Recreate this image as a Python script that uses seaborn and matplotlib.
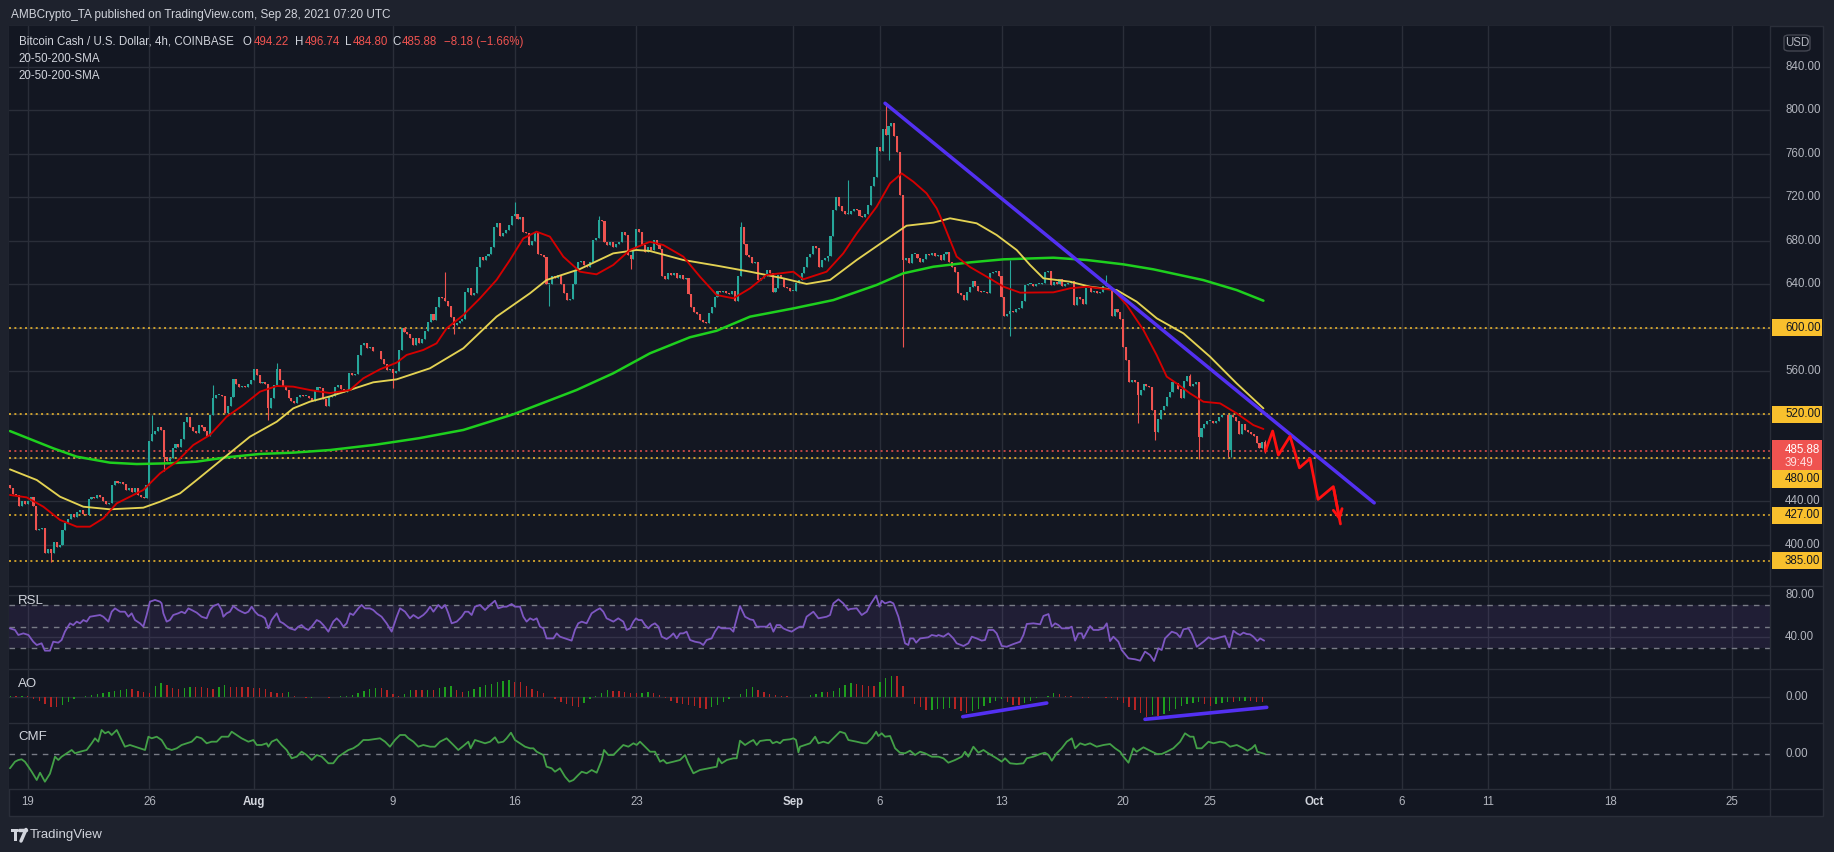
import numpy as np
import matplotlib
matplotlib.use("Agg")
import matplotlib.pyplot as plt
import seaborn as sns
from matplotlib.transforms import blended_transform_factory as btf
from matplotlib.patches import Rectangle, FancyBboxPatch
from matplotlib.lines import Line2D

sns.set_style("dark")
plt.rcParams["font.family"] = ["Liberation Sans", "DejaVu Sans"]

# ---------------- data (days counted from Jul 19 00:00, 4h candles start Jul 18 00:00) -------------
closes_by_day = [
    [452, 447, 446, 436, 440, 437],   # Jul 18
    [440, 444, 436, 413, 414, 415],   # Jul 19
    [392, 396, 392, 402, 398, 400],
    [413, 420, 424, 428, 425, 430],
    [432, 428, 427, 442, 444, 443],
    [446, 444, 440, 437, 438, 455],
    [459, 457, 458, 456, 450, 452],
    [448, 452, 446, 444, 443, 455],
    [495, 502, 505, 508, 506, 481],   # Jul 26
    [477, 480, 489, 493, 490, 497],
    [513, 518, 508, 505, 503, 510],
    [508, 505, 500, 519, 535, 538],
    [538, 537, 521, 528, 536, 553],
    [548, 545, 546, 545, 548, 552],   # Jul 31
    [562, 556, 549, 550, 548, 526],   # Aug 1
    [535, 547, 562, 552, 546, 542],
    [535, 532, 530, 536, 538, 537],
    [537, 535, 532, 542, 545, 544],
    [534, 528, 536, 537, 545, 547],
    [543, 541, 542, 558, 556, 557],
    [575, 584, 586, 581, 582, 578],
    [578, 578, 571, 566, 561, 562],
    [558, 560, 579, 600, 596, 594],   # Aug 9
    [590, 584, 590, 586, 589, 597],
    [605, 612, 607, 619, 628, 627],
    [624, 620, 610, 602, 604, 606],
    [608, 633, 636, 630, 632, 656],
    [665, 662, 666, 668, 674, 693],
    [696, 684, 687, 690, 694, 703],
    [705, 700, 702, 688, 687, 676],   # Aug 16
    [680, 688, 668, 667, 665, 640],
    [640, 647, 646, 648, 640, 632],
    [625, 626, 640, 653, 660, 661],
    [658, 656, 660, 681, 682, 699],
    [698, 679, 676, 679, 674, 677],
    [679, 688, 685, 667, 663, 673],
    [691, 688, 676, 670, 674, 671],   # Aug 23
    [681, 676, 672, 647, 645, 650],
    [648, 650, 646, 648, 645, 646],
    [631, 619, 614, 612, 607, 605],
    [604, 613, 619, 628, 634, 633],
    [634, 632, 631, 634, 624, 647],
    [693, 677, 667, 665, 659, 660],
    [644, 646, 647, 653, 650, 633],
    [636, 648, 646, 637, 636, 634],   # Aug 31
    [634, 641, 644, 650, 656, 665],   # Sep 1
    [668, 675, 673, 656, 662, 664],
    [666, 684, 708, 720, 712, 707],
    [705, 705, 707, 709, 708, 703],
    [702, 705, 713, 730, 739, 766],
    [763, 783, 777, 786, 788, 776],   # Sep 6
    [762, 722, 662, 664, 659, 668],
    [668, 664, 660, 663, 668, 667],
    [669, 666, 667, 662, 668, 670],
    [660, 656, 651, 632, 630, 625],
    [633, 637, 643, 638, 634, 633],
    [633, 632, 650, 651, 652, 647],
    [628, 611, 612, 615, 614, 617],   # Sep 13
    [618, 624, 639, 640, 640, 638],
    [640, 640, 641, 651, 652, 639],
    [642, 640, 645, 638, 640, 641],
    [643, 621, 628, 626, 622, 636],
    [636, 633, 634, 632, 633, 638],
    [639, 636, 611, 617, 614, 608],
    [582, 570, 550, 552, 550, 538],   # Sep 20
    [542, 548, 546, 545, 524, 504],
    [516, 524, 528, 536, 541, 550],
    [549, 543, 535, 551, 555, 546],
    [548, 550, 499, 507, 511, 514],
    [514, 512, 514, 518, 519, 519],
    [487, 519, 518, 514, 502, 511],
    [506, 504, 502, 500, 494, 489],
    [494.22, 485.88],                 # Sep 28
]
first_open = 455.0
wick_high = {49: 519, 70: 547, 92: 567, 150: 651, 174: 716, 203: 703, 252: 697,
             289: 736, 302: 806, 345: 662, 378: 648, 407: 557, 433: 496.74}
wick_low = {14: 384, 53: 468, 89: 515, 132: 544, 153: 594, 186: 620, 214: 654,
            282: 661, 303: 754, 308: 582, 345: 592, 389: 512, 395: 496, 410: 479,
            420: 481, 421: 481, 433: 484.80}

sma20 = [(-1.02, 445.7), (-0.06, 443.5), (0.9, 434.9), (1.86, 422.7), (2.82, 416.5), (3.58, 416.5),
         (4.35, 424.2), (5.12, 438), (5.88, 444.1), (6.65, 450.3), (7.61, 465.6), (8.57, 476.4),
         (9.52, 491.7), (10.48, 501), (11.44, 517.8), (12.4, 528.6), (13.36, 540.9), (14.32, 546.1),
         (15.27, 545.5), (16.23, 542.4), (17.38, 539.6), (18.53, 542.4), (19.3, 553.2), (20.26, 561.5),
         (21.21, 567.6), (21.79, 574.7), (22.75, 579.3), (23.51, 585.4), (24.09, 599.2), (25.05, 611.5),
         (26.01, 626.9), (26.96, 643.8), (27.73, 662.2), (28.5, 682.1), (29.26, 688.3), (30.03, 683.7),
         (30.8, 665.3), (31.76, 651.4), (32.71, 649), (33.67, 657.6), (34.63, 671.4), (35.78, 679),
         (36.55, 676), (37.7, 665.3), (38.66, 646.8), (39.62, 629.9), (40.58, 626.9), (41.54, 636.1),
         (42.49, 648.4), (44.03, 651.4), (44.6, 644.4), (45.94, 651.4), (46.9, 668.3), (47.67, 686.7),
         (48.82, 711.3), (49.59, 732.8), (50.26, 742), (50.93, 734.3), (51.69, 723.6), (52.27, 709.8),
         (52.65, 696), (53.42, 665.3), (54.19, 655.7), (55.15, 646.8), (56.11, 637.6), (57.07, 632.1),
         (58.98, 632.4), (59.94, 636.1), (60.9, 637.6), (62.43, 634.5), (63.2, 620.7), (64.16, 597.7),
         (64.92, 574.6), (65.5, 554.7), (66.07, 548.5), (66.84, 539.3), (67.61, 531.6), (68.57, 530.1),
         (69.52, 520.9), (70.48, 510.1), (71.06, 506.5)]
sma50 = [(-1.02, 469.3), (0.52, 459.5), (1.86, 444.1), (3.2, 434.9), (4.73, 432.5), (6.65, 434),
         (7.61, 439.5), (8.76, 447.2), (9.72, 459.5), (11.25, 479.5), (12.78, 499.4), (14.32, 513.2),
         (15.27, 525.5), (16.23, 531.7), (17.38, 536.5), (19.87, 549.5), (21.21, 552.2), (23.13, 562.4),
         (25.05, 580.8), (26.96, 610), (28.88, 631.5), (29.84, 643.8), (31.76, 653.9), (33.67, 668.3),
         (35.0, 671.4), (35.78, 670.5), (37.7, 662.2), (39.62, 657), (41.54, 651.4), (43.45, 645.3),
         (44.79, 640.1), (46.14, 643.8), (47.67, 662.2), (49.2, 679.1), (50.54, 693.8), (52.08, 696.6),
         (53.04, 700.6), (54.57, 696), (55.72, 685.2), (56.87, 671.4), (57.64, 657.6), (58.41, 645.3),
         (59.94, 642.2), (61.09, 637.6), (62.62, 634.5), (63.77, 623.8), (64.93, 608.4), (66.46, 594.6),
         (67.99, 573.1), (69.52, 548.5), (71.06, 525.5)]
sma200 = [(-1.02, 504.6), (1.47, 488.7), (2.82, 481), (4.73, 475.5), (6.27, 474.2), (8.18, 474.9),
          (9.72, 476.4), (11.44, 480.4), (13.36, 483.5), (15.27, 484.7), (17.38, 487.1), (20.0, 492),
          (22.5, 498), (25.05, 505.6), (27.92, 520), (31.56, 542.4), (33.67, 557.8), (35.78, 576.2),
          (38.08, 591), (39.62, 597), (41.54, 610), (44.03, 617.6), (46.33, 625.3), (48.82, 639.2),
          (50.35, 649.9), (52.08, 656), (54.19, 660), (56.1, 662.8), (58.98, 664.3), (60.9, 662.2),
          (63.0, 658.2), (64.73, 653.6), (67.6, 643.7), (69.52, 634.5), (71.06, 624.7)]

trend_days = [49.3, 77.43]
trend_vals = [806.6, 438.4]
projection = [(71.17, 485.88), (71.59, 504.6), (71.92, 482.5), (72.59, 499.8), (73.13, 470.7),
              (73.74, 479.3), (74.2, 441.6), (75.08, 453.4), (75.49, 419.0)]
levels = [600, 520, 480, 427, 385]
last_price = 485.88
countdown = "39:49"
price_ticks = [400, 440, 560, 640, 680, 720, 760, 800, 840]

rsi = [(-1.02, 48.4), (-0.73, 46.9), (-0.54, 42.2), (-0.25, 43.7), (0.04, 42.2), (0.32, 35.9), (0.52, 32.8),
       (0.80, 34.4), (0.99, 27.5), (1.28, 27.5), (1.47, 35.9), (1.76, 35.0), (1.95, 37.5), (2.14, 45.3),
       (2.43, 53.1), (2.62, 51.5), (2.82, 54.7), (3.01, 53.1), (3.2, 56.2), (3.39, 54.7), (3.58, 59.3),
       (4.16, 60.9), (4.35, 59.3), (4.64, 54.7), (4.83, 64.0), (5.02, 67.1), (5.31, 64.0), (5.59, 64.0),
       (5.79, 59.3), (5.98, 62.5), (6.17, 56.2), (6.46, 53.1), (6.65, 50.0), (6.84, 60.9), (7.03, 73.4),
       (7.32, 75.0), (7.61, 73.4), (7.7, 71.8), (7.8, 62.5), (7.99, 54.7), (8.18, 56.2), (8.37, 60.9),
       (8.66, 62.5), (8.85, 64.0), (9.04, 62.5), (9.24, 67.1), (9.43, 65.6), (9.72, 63.1), (10.0, 59.3),
       (10.29, 57.8), (10.48, 65.6), (10.67, 69.3), (10.96, 71.2), (11.15, 65.6), (11.25, 59.3),
       (11.44, 62.5), (11.63, 64.0), (11.82, 69.3), (12.11, 65.6), (12.3, 64.0), (12.5, 62.5),
       (12.69, 64.0), (12.88, 68.7), (13.07, 64.0), (13.26, 60.9), (13.45, 60.0), (13.65, 57.8),
       (13.84, 48.4), (14.03, 56.2), (14.32, 62.5), (14.51, 54.7), (14.7, 53.1), (14.89, 50.6),
       (15.08, 48.4), (15.37, 46.9), (15.56, 50.0), (15.75, 51.5), (15.95, 48.4), (16.14, 46.9),
       (16.33, 50.0), (16.62, 56.2), (16.81, 54.7), (17.0, 51.5), (17.29, 45.3), (17.57, 54.7),
       (17.77, 57.8), (17.96, 54.7), (18.15, 50.0), (18.34, 53.1), (18.53, 62.5), (18.72, 60.9),
       (19.01, 67.1), (19.2, 70.3), (19.4, 67.1), (19.68, 67.1), (19.87, 65.6), (20.07, 62.5),
       (20.35, 59.3), (20.64, 53.1), (20.93, 45.3), (21.22, 59.3),
       (21.41, 67.2), (21.7, 64), (21.98, 57.8), (22.18, 60.9), (22.46, 57.8), (22.75, 60.9), (22.94, 64),
       (23.14, 68.7), (23.33, 64), (23.61, 70.3), (23.81, 67.2), (24.0, 70.3), (24.19, 62.5), (24.38, 53.1),
       (24.67, 54.7), (24.96, 59.3), (25.15, 64), (25.34, 64), (25.53, 60.9), (25.72, 68.7), (26.01, 70.3),
       (26.3, 65.6), (26.59, 70.3), (26.87, 74.3), (27.06, 67.2), (27.35, 68.7), (27.54, 68.7),
       (27.83, 71.2), (28.02, 68.7), (28.31, 68.7), (28.5, 59.3), (28.69, 54.7), (28.89, 57.8),
       (29.08, 56.2), (29.27, 57.8), (29.46, 50), (29.65, 48.4), (29.84, 39), (30.23, 39), (30.42, 43.7),
       (30.61, 40.6), (30.9, 39), (31.28, 36.9), (31.47, 46.9), (31.66, 53.1), (31.86, 54.7),
       (32.14, 53.1), (32.43, 62.5), (32.72, 65.6), (32.91, 67.2), (33.1, 64), (33.29, 57.8),
       (33.49, 56.2), (33.68, 54.7), (33.96, 57.8), (34.25, 54.7), (34.44, 46.9), (34.64, 48.4),
       (34.83, 54.7), (34.98, 57.8), (35.12, 56.2), (35.31, 56.2), (35.5, 51.5), (35.69, 48.4),
       (35.88, 51.5), (36.07, 53.1), (36.27, 50), (36.46, 40.6), (36.74, 38.4), (36.94, 40.6),
       (37.13, 43.7), (37.32, 39), (37.51, 43.7), (37.7, 43.7), (37.89, 45.3), (38.09, 37.5),
       (38.37, 35.9), (38.66, 35), (38.85, 32.8), (39.04, 37.5), (39.33, 39), (39.52, 45.3), (39.72, 50),
       (39.91, 48.4), (40.1, 48.4), (40.39, 48.4), (40.58, 45.3), (40.67, 51.5), (40.96, 69.3),
       (41.25, 59.3), (41.54, 56.8), (41.73, 56.2), (41.92, 50), (42.21, 50), (42.5, 50), (42.69, 53.1),
       (42.88, 45.3), (43.07, 51.5), (43.26, 51.5), (43.45, 48.4), (43.65, 46.9), (43.93, 45.3),
       (44.22, 48.4), (44.41, 50), (44.6, 50), (44.79, 59.3), (45.18, 64), (45.47, 57.8), (45.94, 59.3),
       (46.14, 60.9), (46.33, 71.8), (46.62, 75.6), (46.9, 71.8), (47.19, 65.6),
       (47.29, 66.5), (47.67, 67.2), (47.96, 60.9), (48.25, 64), (48.44, 70.3), (48.63, 75), (48.79, 79),
       (48.98, 68.7), (49.11, 74.3), (49.3, 71.8), (49.59, 73.4), (49.78, 71.8), (50.07, 59.3),
       (50.26, 46.9), (50.45, 34.4), (50.64, 32.8), (50.74, 39), (50.93, 39), (51.09, 35), (51.32, 39),
       (51.79, 40), (51.99, 42.2), (52.27, 41.2), (52.37, 42.2), (52.66, 40.6), (52.94, 43.7),
       (53.23, 39), (53.42, 34.4), (53.81, 31.9), (54.09, 34.4), (54.29, 40.6), (54.57, 39),
       (54.86, 36.9), (55.05, 37.5), (55.24, 46.9), (55.53, 46.9), (55.72, 43.7), (56.01, 31.9),
       (56.3, 31.2), (56.68, 33.7), (57.07, 35.9), (57.26, 42.2), (57.45, 52.5), (57.83, 53.1),
       (58.22, 52.2), (58.41, 60), (58.7, 61.8), (58.89, 50), (59.08, 53.1), (59.27, 51.5), (59.46, 48.4),
       (59.85, 48.4), (60.04, 50), (60.23, 36.9), (60.42, 43.7), (60.61, 43.7), (60.71, 39),
       (61.09, 50.6), (61.28, 46.9), (61.57, 46.9), (61.86, 48.4), (62.05, 53.1), (62.24, 36.5),
       (62.43, 40.6), (62.72, 35.9), (62.91, 28.1), (63.3, 20.3), (63.68, 19.4), (63.97, 18.1),
       (64.25, 26.6), (64.54, 23.4), (64.77, 17.8), (65.02, 29.7), (65.21, 28.1), (65.4, 39),
       (65.79, 45.3), (66.07, 43.7), (66.27, 40), (66.46, 47.5), (66.75, 48.4), (66.94, 43.1),
       (67.23, 31.2), (67.61, 35.9), (67.9, 40), (68.18, 38.1), (68.57, 40), (68.85, 41.2), (69.1, 30.6),
       (69.33, 46.2), (69.53, 43.7), (69.72, 42.2), (69.91, 44.4), (70.1, 43.1), (70.29, 42.8),
       (70.48, 40.6), (70.71, 36.5), (70.87, 39), (71.1, 36.9)]

# Awesome Oscillator, one value every 8h from Jul 18 00:00
ao = [1.3, 1.3, 2, 1.3, -4, -8.7, -14.7, -20, -21.3, -16.7,
      -10, -4, -0.7, 2, 3.3, 6, 8, 9.3, 11.3, 14,
      16, 14.7, 12, 10, 8, 21.3, 26.7, 22.7, 16.7, 14.7,
      16.7, 18.7, 18.7, 18.7, 16.7, 14.7, 18.7, 22.7, 19.3, 18.7,
      18.7, 18.7, 17.3, 16.7, 14.7, 8.7, 6.7, 6.7, 9.3, 2,
      -0.7, -2.7, -2, -0.7, -1.3, -2.7, -1.3, 1.3, 2, 3.3,
      6.7, 12, 16, 17.3, 16.7, 13.3, 6, 1.3, 4.7, 13.3,
      13.3, 12.7, 13.3, 13.3, 16.7, 19.3, 20.7, 13.3, 10, 11.3,
      15.3, 18.7, 22.7, 26, 29.3, 32, 32.7, 30, 30, 22,
      15.3, 10.7, 8, 0, -5.3, -10.7, -14.7, -18, -20, -12,
      -5.3, 0.7, 6.7, 13.3, 12, 11.3, 9.3, 6.7, 6.7, 7.3,
      8.7, 6.7, 3.3, -2, -8, -13.3, -14.7, -16, -19.3, -22,
      -25.3, -21.3, -16, -10.7, -5.3, -1.3, 4.7, 14.7, 18.7, 13.3,
      10, 6, 3.3, 1.3, 1.3, -0.7, 0, 0, 2.7, 6,
      9.3, 9.3, 11.3, 17.3, 24, 28, 25.3, 23.3, 21.3, 21.3,
      29.3, 37.3, 42, 40.7, 21.3, -1.3, -14.7, -21.3, -27, -26.7,
      -25.3, -24, -22.7, -24, -28.7, -33.3, -28.7, -24, -19.3, -13.3,
      -8, -4.7, -10, -16, -16, -12, -8, -3.3, -0.7, 2,
      6.7, 5.3, 2, 2, 0, -2.7, -3.3, -1.3, -0.7, -2,
      -3.3, -7.3, -12.7, -20, -26.7, -33.3, -40, -37.3, -38.7, -34.7,
      -28.7, -24, -19.3, -15.3, -13.3, -11.3, -14, -18.7, -15.3, -12.7,
      -10.7, -11.3, -9.3, -8, -8, -10, -11.3]
ao_divergences = [((53.77, -40.1), (58.6, -12.7)), ((64.25, -45.3), (71.25, -21.3))]

cmf = [(-1.02, -0.146), (-0.73, -0.08), (-0.54, -0.063), (-0.35, -0.056), (-0.16, -0.08), (0.04, -0.13),
       (0.23, -0.18), (0.52, -0.263), (0.71, -0.19), (0.99, -0.28), (1.28, -0.2), (1.57, -0.03),
       (1.76, -0.063), (1.95, -0.03), (2.24, 0.004), (2.53, 0.037), (2.72, 0.004), (3.01, 0.02),
       (3.39, 0.037), (3.68, 0.104), (3.87, 0.154), (4.06, 0.12), (4.25, 0.237), (4.45, 0.204),
       (4.64, 0.22), (4.83, 0.187), (5.12, 0.237), (5.4, 0.137), (5.59, 0.07), (5.88, 0.087),
       (6.17, 0.07), (6.46, 0.054), (6.75, 0.037), (6.94, 0.17), (7.13, 0.154), (7.42, 0.17),
       (7.7, 0.137), (7.99, 0.054), (8.28, 0.037), (8.57, 0.054), (8.85, 0.087), (9.14, 0.104),
       (9.43, 0.12), (9.72, 0.17), (10.0, 0.154), (10.29, 0.104), (10.58, 0.12), (10.87, 0.12),
       (11.15, 0.17), (11.54, 0.17), (11.73, 0.22), (12.02, 0.187), (12.3, 0.154), (12.69, 0.12),
       (12.98, 0.137), (13.17, 0.087), (13.45, 0.087), (13.74, 0.104), (13.84, 0.07), (14.03, 0.12),
       (14.32, 0.144), (14.6, 0.087), (14.89, 0.037), (15.18, -0.046), (15.47, -0.03), (15.75, 0.02),
       (16.04, -0.013), (16.33, -0.063), (16.62, -0.013), (16.91, -0.03), (17.29, -0.096),
       (17.57, -0.096), (17.86, -0.03), (18.15, 0.004), (18.44, 0.037), (18.72, 0.054), (19.01, 0.087),
       (19.3, 0.137), (19.59, 0.137), (19.88, 0.144), (20.26, 0.154), (20.55, 0.12), (20.83, 0.07),
       (21.12, 0.137),
       (21.41, 0.187), (21.7, 0.187), (21.89, 0.154), (22.18, 0.12), (22.46, 0.07), (22.75, 0.087),
       (23.14, 0.07), (23.42, 0.07), (23.71, 0.12), (24.09, 0.154), (24.48, 0.087), (24.76, 0.037),
       (25.05, 0.077), (25.34, 0.12), (25.47, 0.054), (25.72, 0.137), (26.01, 0.12), (26.3, 0.104),
       (26.59, 0.12), (26.87, 0.164), (27.06, 0.11), (27.35, 0.12), (27.54, 0.154), (27.79, 0.21),
       (28.02, 0.137), (28.31, 0.104), (28.6, 0.07), (28.89, 0.054), (29.08, 0.054), (29.27, 0.02),
       (29.65, -0.013), (29.84, -0.13), (30.13, -0.146), (30.32, -0.18), (30.61, -0.146), (30.9, -0.23),
       (31.15, -0.28), (31.38, -0.263), (31.66, -0.213), (31.86, -0.18), (32.14, -0.196),
       (32.43, -0.163), (32.72, -0.19), (33.01, -0.063), (33.14, 0.037), (33.39, -0.013),
       (33.68, -0.013), (33.96, 0.037), (34.25, 0.087), (34.54, 0.07), (34.83, 0.104), (35.02, 0.087),
       (35.21, 0.12), (35.5, 0.07), (35.79, 0.02), (36.07, 0.02), (36.36, -0.08), (36.55, -0.063),
       (36.74, -0.096), (37.13, -0.08), (37.51, -0.063), (37.8, -0.013), (37.99, -0.096),
       (38.28, -0.196), (38.66, -0.163), (39.14, -0.146), (39.62, -0.13), (39.72, -0.046),
       (39.91, -0.096), (40.2, -0.063), (40.58, -0.046), (40.77, -0.046), (40.96, 0.13), (41.25, 0.087),
       (41.54, 0.12), (41.73, 0.137), (41.92, 0.087), (42.11, 0.127), (42.5, 0.137), (42.69, 0.137),
       (42.84, 0.104), (43.07, 0.12), (43.26, 0.104), (43.45, 0.137), (43.84, 0.144), (44.03, 0.154),
       (44.18, 0.137), (44.32, 0.014), (44.41, 0.07), (44.7, 0.087), (44.99, 0.104), (45.28, 0.17),
       (45.47, 0.104), (45.76, 0.12), (46.04, 0.104), (46.33, 0.154), (46.71, 0.22), (47.0, 0.204),
       (47.19, 0.137),
       (47.67, 0.12), (48.06, 0.104), (48.25, 0.104), (48.54, 0.154), (48.79, 0.22), (48.92, 0.177),
       (49.11, 0.204), (49.3, 0.17), (49.59, 0.177), (49.88, 0.054), (50.16, 0.01), (50.45, 0.004),
       (50.74, 0.03), (51.03, -0.013), (51.32, 0.02), (51.6, 0.004), (51.99, -0.03), (52.37, -0.03),
       (52.66, -0.046), (52.94, -0.09), (53.33, -0.063), (53.71, -0.03), (53.9, 0.02), (54.09, -0.03),
       (54.38, 0.07), (54.67, 0.01), (54.96, 0.037), (55.24, 0.004), (55.72, -0.046), (56.01, -0.08),
       (56.2, -0.046), (56.49, -0.096), (56.87, -0.103), (57.26, -0.096), (57.45, -0.046),
       (57.83, -0.03), (58.22, -0.003), (58.5, 0.01), (58.7, -0.013), (58.89, -0.07), (59.17, 0.004),
       (59.46, 0.054), (59.75, 0.12), (60.04, 0.154), (60.23, 0.054), (60.52, 0.104), (60.8, 0.087),
       (61.09, 0.104), (61.47, 0.07), (61.86, 0.087), (62.24, 0.097), (62.53, 0.054), (62.82, 0.02),
       (63.01, -0.03), (63.3, -0.09), (63.58, 0.054), (63.77, 0.02), (64.16, 0.064), (64.54, 0.03),
       (64.93, -0.003), (65.21, -0.003), (65.5, 0.02), (65.88, 0.054), (66.27, 0.12), (66.55, 0.204),
       (66.84, 0.17), (67.04, 0.17), (67.23, 0.054), (67.51, 0.054), (67.9, 0.12), (68.18, 0.104),
       (68.57, 0.12), (68.85, 0.11), (69.14, 0.07), (69.53, 0.087), (69.91, 0.054), (70.14, 0.03),
       (70.39, 0.054), (70.58, 0.087), (70.71, 0.02), (70.9, 0.01), (71.15, -0.003)]

tick_days = [0, 7, 13, 21, 28, 35, 44, 49, 56, 63, 68, 74, 79, 84, 91, 98]
tick_labels = ["19", "26", "Aug", "9", "16", "23", "Sep", "6", "13", "20", "25", "Oct", "6", "11", "18", "25"]
month_labels = {"Aug", "Sep", "Oct"}

# ---------------- style ----------------
W, H = 1834, 852
BG = "#131722"; OUTER = "#1e222d"; GRID = "#2a2e39"; TXT = "#b2b5be"; TXT2 = "#d1d4dc"
UP = "#26a69a"; DN = "#ef5350"; YEL = "#f9c02d"; BLUE = "#5330f2"
FS = 8.3

fig = plt.figure(figsize=(W / 100, H / 100), dpi=100, facecolor=OUTER)
def fx(px): return px / W
def fy(py): return 1 - py / H

L, R = 9, 1770
X0, X1 = -1.075, 100.19

fig.patches.append(Rectangle((fx(L), fy(816)), fx(1823) - fx(L), (816 - 26) / H,
                             transform=fig.transFigure, fc=BG, ec=GRID, lw=1, zorder=-5))

def panel(top, bot, ylim, yticks):
    ax = fig.add_axes([fx(L), fy(bot), (R - L) / W, (bot - top) / H])
    ax.set_facecolor(BG)
    for s in ax.spines.values():
        s.set_visible(False)
    ax.set_xlim(X0, X1)
    ax.set_ylim(*ylim)
    ax.set_xticks(tick_days)
    ax.set_yticks(yticks)
    ax.tick_params(length=0, labelleft=False, labelbottom=False)
    ax.grid(True, color=GRID, lw=1)
    ax.set_axisbelow(True)
    return ax

ax_p = panel(26, 586, (361.84, 877.78), list(range(400, 841, 40)))
ax_r = panel(586, 669.3, (10.05, 88.08), [40, 80])
ax_a = panel(669.3, 722.7, (-52.07, 54.74), [0])
ax_c = panel(722.7, 789.3, (-0.356, 0.31), [])

for yy in (586, 669.3, 722.7, 789.3):
    fig.add_artist(Line2D([fx(L), fx(1823)], [fy(yy)] * 2, color=GRID, lw=1))
fig.add_artist(Line2D([fx(R), fx(R)], [fy(26), fy(816)], color=GRID, lw=1))

# ---------------- price candles ----------------
closes = np.array([c for day in closes_by_day for c in day], dtype=float)
n = len(closes)
t = -1 + np.arange(n) / 6.0
opens = np.concatenate([[first_open], closes[:-1]])
highs = np.maximum(opens, closes)
lows = np.minimum(opens, closes)
for i, v in wick_high.items():
    highs[i] = max(highs[i], v)
for i, v in wick_low.items():
    lows[i] = min(lows[i], v)
cols = np.where(closes >= opens, UP, DN)
ax_p.vlines(t, lows, highs, colors=cols, lw=0.8, zorder=3)
ax_p.bar(t, np.maximum(np.abs(closes - opens), 0.8), bottom=np.minimum(opens, closes),
         width=0.12, color=cols, linewidth=0, zorder=4)

for pts, col, lw in ((sma200, "#1ed01e", 1.8), (sma50, "#e3d253", 1.35), (sma20, "#d50000", 1.35)):
    xs, ys = zip(*pts)
    sns.lineplot(x=list(xs), y=list(ys), ax=ax_p, color=col, lw=lw, estimator=None, sort=False, zorder=5)

for lv in levels:
    ax_p.axhline(lv, color=YEL, lw=1.1, ls=(0, (1.3, 2.2)), zorder=2)
ax_p.axhline(last_price, color=DN, lw=1.1, ls=(0, (1.3, 2.2)), zorder=2)

sns.lineplot(x=trend_days, y=trend_vals, ax=ax_p, color=BLUE, lw=2.5, estimator=None, sort=False, zorder=7)
px_, py_ = zip(*projection)
sns.lineplot(x=list(px_), y=list(py_), ax=ax_p, color="#ff1010", lw=2.0, estimator=None, sort=False, zorder=7)
ax_p.annotate("", xy=projection[-1], xytext=projection[-2],
              arrowprops=dict(arrowstyle="->", color="#ff1010", lw=2.0, mutation_scale=16), zorder=7)

# ---------------- right price scale ----------------
trp = btf(fig.transFigure, ax_p.transData)
for v in price_ticks:
    ax_p.text(fx(1785), v, f"{v:.2f}", transform=trp, color=TXT, fontsize=FS, va="center", ha="left",
              clip_on=False)
box_h = 15.85
red_top, red_bot = last_price + 10.1, last_price - 17.5
for lv in levels:
    yc = lv
    if red_bot - box_h / 2 < lv < red_top + box_h / 2:
        yc = red_bot - box_h / 2
    ax_p.add_patch(Rectangle((fx(1772), yc - box_h / 2), fx(1822) - fx(1772), box_h, transform=trp,
                             fc=YEL, ec="none", clip_on=False, zorder=10))
    ax_p.text(fx(1785), yc, f"{lv:.2f}", transform=trp, color="#131722", fontsize=FS, va="center",
              ha="left", clip_on=False, zorder=11)
ax_p.add_patch(Rectangle((fx(1772), red_bot), fx(1822) - fx(1772), red_top - red_bot, transform=trp,
                         fc=DN, ec="none", clip_on=False, zorder=10))
ax_p.text(fx(1785), last_price + 1.2, f"{last_price:.2f}", transform=trp, color="white", fontsize=FS,
          va="center", ha="left", clip_on=False, zorder=11)
ax_p.text(fx(1785), last_price - 10.7, countdown, transform=trp, color="#ffe0e0", fontsize=FS,
          va="center", ha="left", clip_on=False, zorder=11)
fig.patches.append(FancyBboxPatch((fx(1784), fy(51)), fx(1810) - fx(1784), (51 - 35) / H,
                                  boxstyle="round,pad=0,rounding_size=0.003", transform=fig.transFigure,
                                  fc="none", ec="#434651", lw=1))
fig.text(fx(1797), fy(43), "USD", color=TXT, fontsize=FS, ha="center", va="center")

# ---------------- RSI ----------------
ax_r.axhspan(30, 70, color="#7e57c2", alpha=0.12, lw=0, zorder=1)
for lv in (70, 50, 30):
    ax_r.axhline(lv, color="#787b86", lw=1, ls=(0, (4, 4)), zorder=2)
rx, ry = zip(*rsi)
sns.lineplot(x=list(rx), y=list(ry), ax=ax_r, color="#7e57c2", lw=1.3, estimator=None, sort=False, zorder=3)
trr = btf(fig.transFigure, ax_r.transData)
for v in (80, 40):
    ax_r.text(fx(1785), v, f"{v:.2f}", transform=trr, color=TXT, fontsize=FS, va="center", clip_on=False)
fig.text(fx(18), fy(601), "RSL", color=TXT2, fontsize=9.5, va="center")

# ---------------- AO ----------------
ao = np.array(ao)
ao_t = -1 + np.arange(len(ao)) / 3.0
ao_col = ["#1e9e1e" if i > 0 and ao[i] > ao[i - 1] else "#b52424" for i in range(len(ao))]
ao_col[0] = "#1e9e1e"
ax_a.bar(ao_t, ao, width=0.08, color=ao_col, linewidth=0, zorder=3)
for (d0, a0), (d1, a1) in ao_divergences:
    sns.lineplot(x=[d0, d1], y=[a0, a1], ax=ax_a, color=BLUE, lw=2.6, estimator=None, sort=False, zorder=4)
tra = btf(fig.transFigure, ax_a.transData)
ax_a.text(fx(1785), 0, "0.00", transform=tra, color=TXT, fontsize=FS, va="center", clip_on=False)
fig.text(fx(18), fy(684), "AO", color=TXT2, fontsize=9.5, va="center")

# ---------------- CMF ----------------
ax_c.axhline(0, color="#787b86", lw=1, ls=(0, (4, 4)), zorder=2)
cx, cy = zip(*cmf)
sns.lineplot(x=list(cx), y=list(cy), ax=ax_c, color="#43a047", lw=1.3, estimator=None, sort=False, zorder=3)
trc = btf(fig.transFigure, ax_c.transData)
ax_c.text(fx(1785), 0, "0.00", transform=trc, color=TXT, fontsize=FS, va="center", clip_on=False)
fig.text(fx(18), fy(737), "CMF", color=TXT2, fontsize=9.5, va="center")

for ax in (ax_p, ax_r, ax_a, ax_c):
    ax.set_xlabel(""); ax.set_ylabel("")
    ax.set_xlim(X0, X1)

# ---------------- x labels ----------------
trx = btf(ax_c.transData, fig.transFigure)
for d, lab in zip(tick_days, tick_labels):
    ax_c.text(d, fy(802), lab, transform=trx, color=TXT2 if lab in month_labels else TXT, fontsize=FS,
              ha="center", va="center", fontweight="bold" if lab in month_labels else "normal", clip_on=False)

# ---------------- header / footer texts ----------------
fig.text(fx(11), fy(15), "AMBCrypto_TA published on TradingView.com, Sep 28, 2021 07:20 UTC",
         color=TXT2, fontsize=8.5, va="center")
header = [("Bitcoin Cash / U.S. Dollar, 4h, COINBASE", 18.6, TXT2), ("O", 243, TXT2), ("494.22", 253.5, DN),
          ("H", 295, TXT2), ("496.74", 304.5, DN), ("L", 345.5, TXT2), ("484.80", 352.5, DN),
          ("C", 392.5, TXT2), ("485.88", 402, DN), ("\u22128.18 (\u22121.66%)", 444, DN)]
for s, x, c in header:
    fig.text(fx(x), fy(41.7), s, color=c, fontsize=FS, va="center")
fig.text(fx(18.6), fy(59.3), "20-50-200-SMA", color=TXT2, fontsize=FS, va="center")
fig.text(fx(18.6), fy(76), "20-50-200-SMA", color=TXT2, fontsize=FS, va="center")

fig.patches.append(Rectangle((fx(11), fy(832)), fx(18) - fx(11), 3 / H, transform=fig.transFigure,
                             fc=TXT2, ec="none"))
fig.patches.append(Rectangle((fx(14), fy(841)), 2.5 / W, 9 / H, transform=fig.transFigure,
                             fc=TXT2, ec="none"))
fig.add_artist(Line2D([fx(19), fx(26)], [fy(829.5), fy(829.5)], color=TXT2, lw=2.5))
fig.add_artist(Line2D([fx(26), fx(21)], [fy(829.5), fy(841)], color=TXT2, lw=2.5))
fig.text(fx(30), fy(835), "TradingView", color=TXT2, fontsize=9.5, va="center")

fig.savefig("out.png", dpi=100, facecolor=fig.get_facecolor())
